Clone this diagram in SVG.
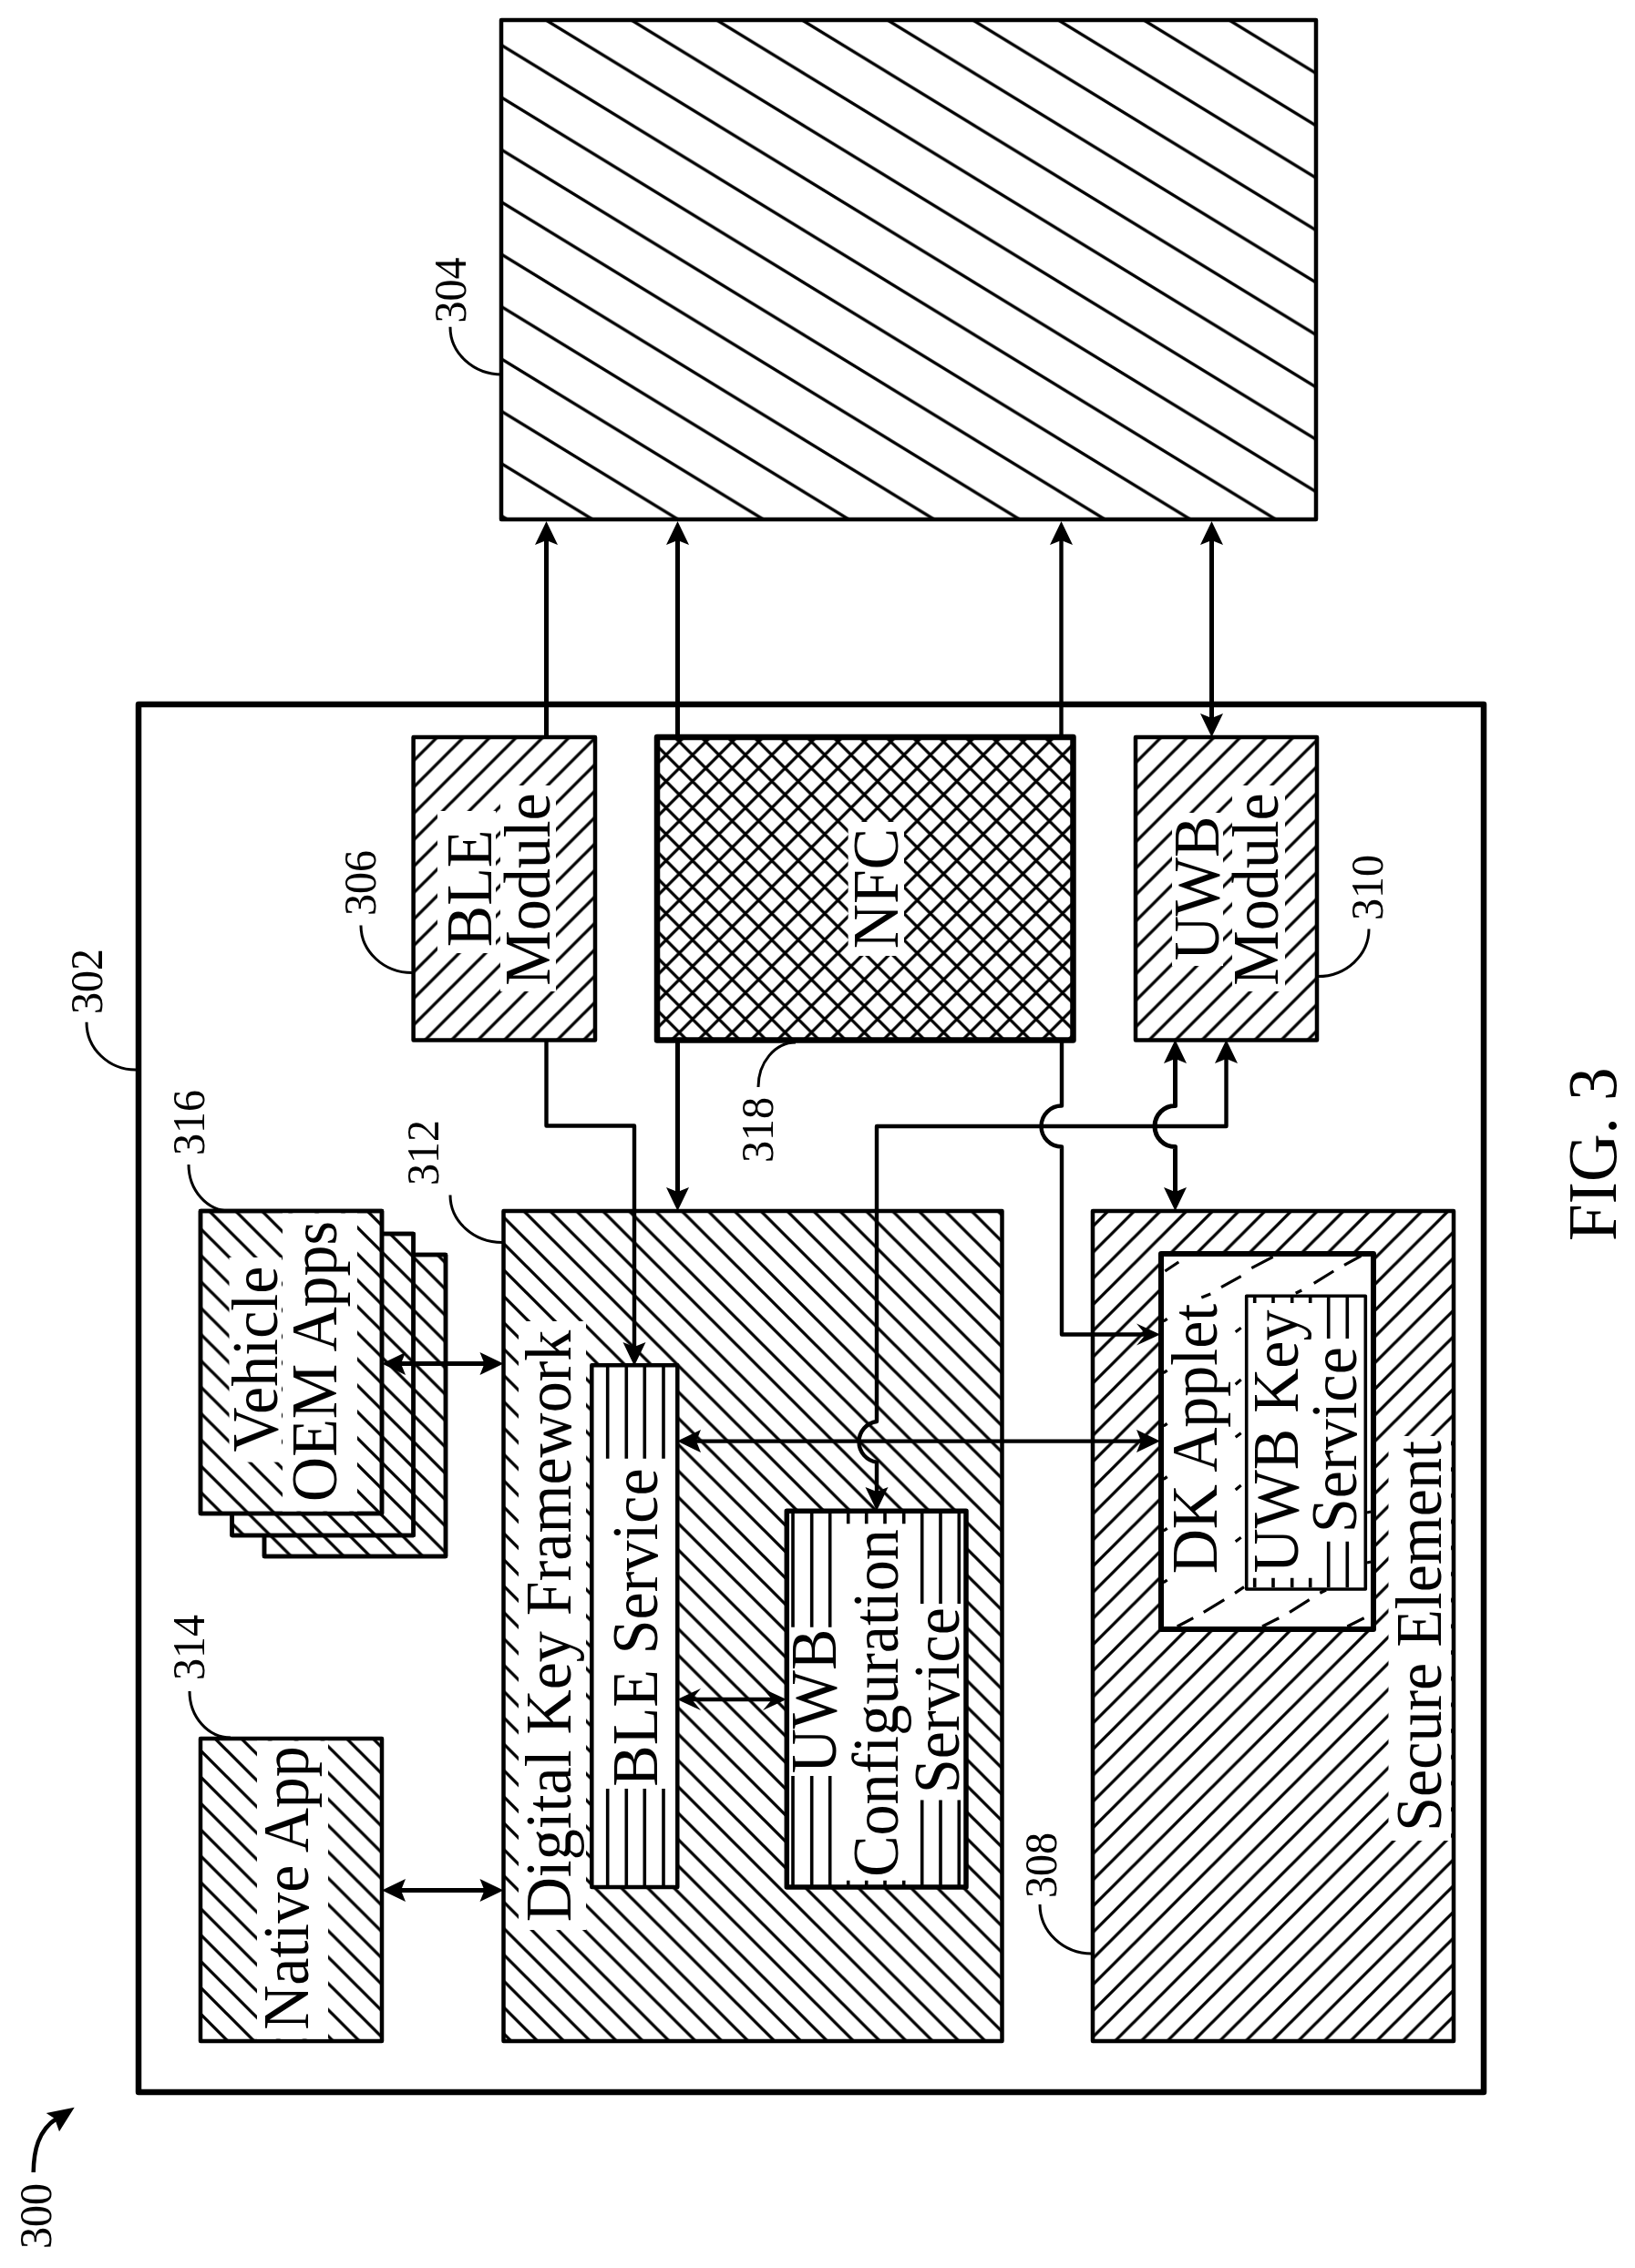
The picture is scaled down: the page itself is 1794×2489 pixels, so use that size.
<svg xmlns="http://www.w3.org/2000/svg" width="1794" height="2489" viewBox="0 0 1794 2489">
<style>
text{font-family:"Liberation Serif","Times New Roman",serif;fill:#000}
.m{font-size:68px;text-anchor:middle}
.r{font-size:48px;text-anchor:start}
.f{font-size:73px;text-anchor:start}
rect{stroke:#000;stroke-linejoin:round}
.b{stroke-width:4.5}
.w{fill:#fff}
.hole{fill:#fff;stroke:none}
.hl{fill:none;stroke:#000;stroke-width:3.3}
.vl{fill:none;stroke:#000;stroke-width:3.6}
.lead{fill:none;stroke:#000;stroke-width:3}
.c{fill:none;stroke:#000;stroke-width:4.4;stroke-linejoin:round}
.t5{stroke-width:5}
.ds{fill:none;stroke:#000;stroke-width:3.2}
</style>
<defs>
<pattern id="bs" patternUnits="userSpaceOnUse" width="28.9" height="28.9" x="0" y="841"><path class="hl" d="M-4-4L33 33M25.9-3L31.9 3M-3 25.9L3 31.9"/></pattern>
<pattern id="bsN" patternUnits="userSpaceOnUse" width="28.9" height="28.9" x="220" y="1921"><path class="hl" d="M-4-4L33 33M25.9-3L31.9 3M-3 25.9L3 31.9"/></pattern>
<pattern id="bsV" patternUnits="userSpaceOnUse" width="28.9" height="28.9" x="232.6" y="1332"><path class="hl" d="M-4-4L33 33M25.9-3L31.9 3M-3 25.9L3 31.9"/></pattern>
<pattern id="fsB" patternUnits="userSpaceOnUse" width="29" height="29" x="466.3" y="1141.5"><path class="hl" d="M-4 33L33-4M-3 3L3-3M26 32L32 26"/></pattern>
<pattern id="fsU" patternUnits="userSpaceOnUse" width="29" height="29" x="1260.7" y="1141.5"><path class="hl" d="M-4 33L33-4M-3 3L3-3M26 32L32 26"/></pattern>
<pattern id="fsS" patternUnits="userSpaceOnUse" width="28.7" height="28.7" x="1215" y="1330"><path class="hl" d="M-4 32.7L32.7-4M-3 3L3-3M25.7 31.7L31.7 25.7"/></pattern>
<pattern id="xx" patternUnits="userSpaceOnUse" width="29" height="29" x="745.4" y="814"><path class="hl" d="M-4-4L33 33M-4 33L33-4M26-3L32 3M-3 26L3 32M-3 3L3-3M26 32L32 26"/></pattern>
<pattern id="big" patternUnits="userSpaceOnUse" width="93.7" height="57.4" x="599" y="22"><path class="hl" d="M-9.37-5.74L103.07 63.14M88-3.5L100 3.9M-6 53.7L6 61"/></pattern>
<marker id="a" markerUnits="userSpaceOnUse" markerWidth="32" markerHeight="30" refX="20" refY="15" orient="auto-start-reverse"><path d="M30 15L4 2.5L9 15L4 27.5Z"/></marker>
<marker id="o" markerUnits="userSpaceOnUse" markerWidth="32" markerHeight="30" refX="20" refY="15" orient="auto-start-reverse"><path d="M30 15L4 3L14 15L4 27Z"/></marker>
</defs>
<rect class="hole" width="1794" height="2489"/>
<g id="n302"><rect x="152" y="773" width="1476" height="1523" fill="none" stroke-width="6.5"/>
<text class="r" transform="translate(111.7 1113) rotate(-90) scale(1 1.05)">302</text><path class="lead" d="M95 1121.7A54 52 0 0 0 149.3 1174"/></g>
<g id="n304"><rect class="b" x="550" y="22" width="894" height="548" fill="url(#big)"/>
<text class="r" transform="translate(510.6 354.6) rotate(-90) scale(1 1.05)">304</text><path class="lead" d="M494 358.7A57 52 0 0 0 551 411"/></g>
<g id="n306"><rect class="b" x="453.6" y="809" width="199.4" height="332.5" fill="url(#fsB)"/>
<rect class="hole" x="480" y="890" width="64" height="156"/><rect class="hole" x="549" y="862" width="61" height="226"/>
<text class="m" transform="translate(539 975) rotate(-90) scale(1 1.05)">BLE</text><text class="m" transform="translate(602.5 976) rotate(-90) scale(1 1.05)">Module</text>
<text class="r" transform="translate(412 1005) rotate(-90) scale(1 1.05)">306</text><path class="lead" d="M396 1015.5A56 52 0 0 0 452 1067.5"/></g>
<g id="n318"><rect x="721" y="809" width="456.5" height="332.5" stroke-width="6.5" fill="url(#xx)"/>
<rect class="hole" x="930.6" y="902" width="61.4" height="147"/>
<text class="m" transform="translate(985 975) rotate(-90) scale(1 1.05)">NFC</text>
<text class="r" transform="translate(847.5 1276) rotate(-90) scale(1 1.05)">318</text><path class="lead" d="M832 1193A41 49 0 0 1 873 1144"/></g>
<g id="n310"><rect class="b" x="1246" y="809" width="199" height="332.5" fill="url(#fsU)"/>
<rect class="hole" x="1286" y="892" width="56" height="168"/><rect class="hole" x="1352" y="862" width="58" height="226"/>
<text class="m" transform="translate(1337 975) rotate(-90) scale(1 1.05)">UWB</text><text class="m" transform="translate(1402 976) rotate(-90) scale(1 1.05)">Module</text>
<text class="r" transform="translate(1517 1010) rotate(-90) scale(1 1.05)">310</text><path class="lead" d="M1446 1071.6A56 52 0 0 0 1502 1019.6"/></g>
<g id="n316"><rect class="b w" x="290" y="1377" width="199" height="331"/><rect class="b" x="290" y="1377" width="199" height="331" fill="url(#bsV)"/>
<rect class="b w" x="254.6" y="1354" width="199" height="331"/><rect class="b" x="254.6" y="1354" width="199" height="331" fill="url(#bsV)"/>
<rect class="b w" x="220" y="1329" width="199" height="332"/><rect class="b" x="220" y="1329" width="199" height="332" fill="url(#bsV)"/>
<rect class="hole" x="251.5" y="1380" width="57.5" height="224.6"/><rect class="hole" x="310" y="1331.5" width="82" height="327"/>
<text class="m" transform="translate(304 1491.5) rotate(-90) scale(1 1.05)">Vehicle</text><text class="m" transform="translate(369 1494) rotate(-90) scale(1 1.05)">OEM Apps</text>
<text class="r" transform="translate(224 1268) rotate(-90) scale(1 1.05)">316</text><path class="lead" d="M207 1278A45 51 0 0 0 252 1329"/></g>
<g id="n314"><rect class="b" x="220" y="1908" width="199" height="332" fill="url(#bsN)"/>
<rect class="hole" x="282" y="1910.5" width="78" height="327"/>
<text class="m" transform="translate(338 2072) rotate(-90) scale(1 1.05)">Native App</text>
<text class="r" transform="translate(224 1844) rotate(-90) scale(1 1.05)">314</text><path class="lead" d="M208 1856A45 51 0 0 0 253 1907"/></g>
<g id="n312"><rect class="b" x="552.5" y="1329" width="547" height="911" fill="url(#bs)"/>
<rect class="hole" x="569" y="1450" width="74" height="668"/>
<text class="m" transform="translate(625.5 1784.5) rotate(-90) scale(1 1.05)">Digital Key Framework</text>
<text class="r" transform="translate(481 1301) rotate(-90) scale(1 1.05)">312</text><path class="lead" d="M494 1311.4A57 52 0 0 0 551.5 1363.5"/></g>
<g id="n320"><rect class="b w" x="649.3" y="1498.3" width="94" height="572.7"/>
<path class="vl" d="M666.7 1500V1600.7M687.3 1500V1600.7M707.3 1500V1600.7M728 1500V1600.7M666.7 1963V2069M687.3 1963V2069M707.3 1963V2069M728 1963V2069"/>
<text class="m" transform="translate(721 1786) rotate(-90) scale(1 1.05)">BLE Service</text></g>
<g id="n322"><rect class="w" x="863.3" y="1658.3" width="196.7" height="412.7" stroke-width="5.5"/>
<path class="vl" d="M870 1660V1785.7M890.7 1660V1785.7M910.7 1660V1785.7M930.7 1660V1672.3M950.7 1660V1672.3M971 1660V1672.3M991.7 1660V1672.3M1011.7 1660V1760M1032 1660V1760M1052.3 1660V1760M870 1949V2069M890.7 1949V2069M910.7 1949V2069M930.7 2063.8V2069M950.7 2063.8V2069M971 2063.8V2069M991.7 2063.8V2069M1011.7 1975.5V2069M1032 1975.5V2069M1052.3 1975.5V2069"/>
<text class="m" transform="translate(917 1867) rotate(-90) scale(1 1.05)">UWB</text><text class="m" transform="translate(985 1869) rotate(-90) scale(1 1.05)">Configuration</text><text class="m" transform="translate(1051.5 1866) rotate(-90) scale(1 1.05)">Service</text></g>
<g id="n308"><rect class="b" x="1199" y="1329" width="396" height="911" fill="url(#fsS)"/>
<rect class="hole" x="1523.5" y="1576" width="68.5" height="444"/>
<text class="m" transform="translate(1580.6 1795.5) rotate(-90) scale(1 1.05)">Secure Element</text>
<text class="r" transform="translate(1158.7 2083) rotate(-90) scale(1 1.05)">308</text><path class="lead" d="M1141 2090A57 54 0 0 0 1198 2144"/></g>
<g id="n324"><rect class="w" x="1274" y="1376" width="233" height="412" stroke-width="6"/>
<path class="ds" d="M1278.3 1395L1293.3 1385M1340 1412.7L1361.7 1400.7M1373.3 1391.7L1396.7 1379.3M1318.3 1424L1328.3 1420M1441.7 1408.3L1463.3 1395M1475 1388.3L1493.3 1378.3M1421.7 1419.3L1428.3 1416M1355.7 1461.7L1361.7 1457.3M1355.7 1519.3L1361.7 1514M1355.7 1577.3L1361.7 1572.7M1355.7 1635L1361.7 1630M1355.7 1691.7L1361.7 1687.3M1276.7 1450L1280.7 1447.3M1276.7 1506.7L1280.7 1504M1276.7 1565L1280.7 1562.3M1276.7 1623.3L1280.7 1620.6M1276.7 1680L1280.7 1677.3M1276.7 1736.7L1280.7 1734M1355 1748.3L1365 1741.7M1320.7 1769.3L1343.3 1755.7M1415 1769.3L1436.7 1755.7M1448.3 1748.3L1455 1745M1291.7 1785L1309.3 1775.7M1385 1785L1403.3 1775.7M1478.3 1785L1496.7 1775.7M1500 1715L1504 1714M1500 1660L1504 1659"/>
<text class="m" transform="translate(1335 1579) rotate(-90) scale(1 1.05)">DK Applet</text></g>
<g id="n326"><rect class="w" x="1367.7" y="1422.3" width="130.6" height="321.7" stroke-width="3.6"/>
<path class="vl" d="M1376.7 1424V1430M1397 1424V1430M1417.7 1424V1430M1437.7 1424V1430M1457.7 1424V1469M1478.3 1424V1469M1376.7 1731.7V1742M1397 1731.7V1742M1417.7 1731.7V1742M1437.7 1731.7V1742M1457.7 1691.7V1742M1478.3 1691.7V1742"/>
<text class="m" transform="translate(1423.5 1582) rotate(-90) scale(1 1.05)">UWB Key</text><text class="m" transform="translate(1488 1580) rotate(-90) scale(1 1.05)">Service</text></g>
<g id="connectors">
<path class="c t5" marker-end="url(#a)" d="M599.5 809V582"/>
<path class="c t5" marker-end="url(#a)" d="M743.5 809V582"/>
<path class="c" marker-end="url(#a)" d="M1164.5 809V582"/>
<path class="c t5" marker-start="url(#a)" marker-end="url(#a)" d="M1329.5 582V799"/>
<path class="c" marker-end="url(#a)" d="M599.5 1141V1235.5H696V1489"/>
<path class="c t5" marker-end="url(#a)" d="M743.5 1141V1319"/>
<path class="c" marker-end="url(#o)" d="M1165 1141V1213.5A22.5 22.5 0 0 0 1165 1258.5V1464.5H1263"/>
<path class="c" marker-start="url(#a)" marker-end="url(#a)" d="M1345.5 1151V1236H962V1560A22.5 22.5 0 0 0 962 1604.6V1648"/>
<path class="c t5" marker-start="url(#a)" marker-end="url(#a)" d="M1289.5 1151V1213.5A22.5 22.5 0 0 0 1289.5 1258.5V1319"/>
<path class="c" marker-start="url(#a)" marker-end="url(#a)" d="M753 1581.6H1263"/>
<path class="c" marker-start="url(#o)" marker-end="url(#o)" d="M753 1865H853"/>
<path class="c t5" marker-start="url(#a)" marker-end="url(#a)" d="M429 1496.6H542.5"/>
<path class="c t5" marker-start="url(#a)" marker-end="url(#a)" d="M429 2074.5H542.5"/>
</g>
<g id="n300"><text class="r" transform="translate(56 2468) rotate(-90) scale(1 1.05)">300</text>
<path fill="none" stroke="#000" stroke-width="4.5" d="M36.7 2384C37 2360 42 2338 62 2325"/><path d="M81.7 2312.7L50.7 2319L60 2325L65 2339.3Z"/></g>
<text class="f" transform="translate(1773 1362) rotate(-90) scale(1 1.05)">FIG. 3</text>
</svg>
